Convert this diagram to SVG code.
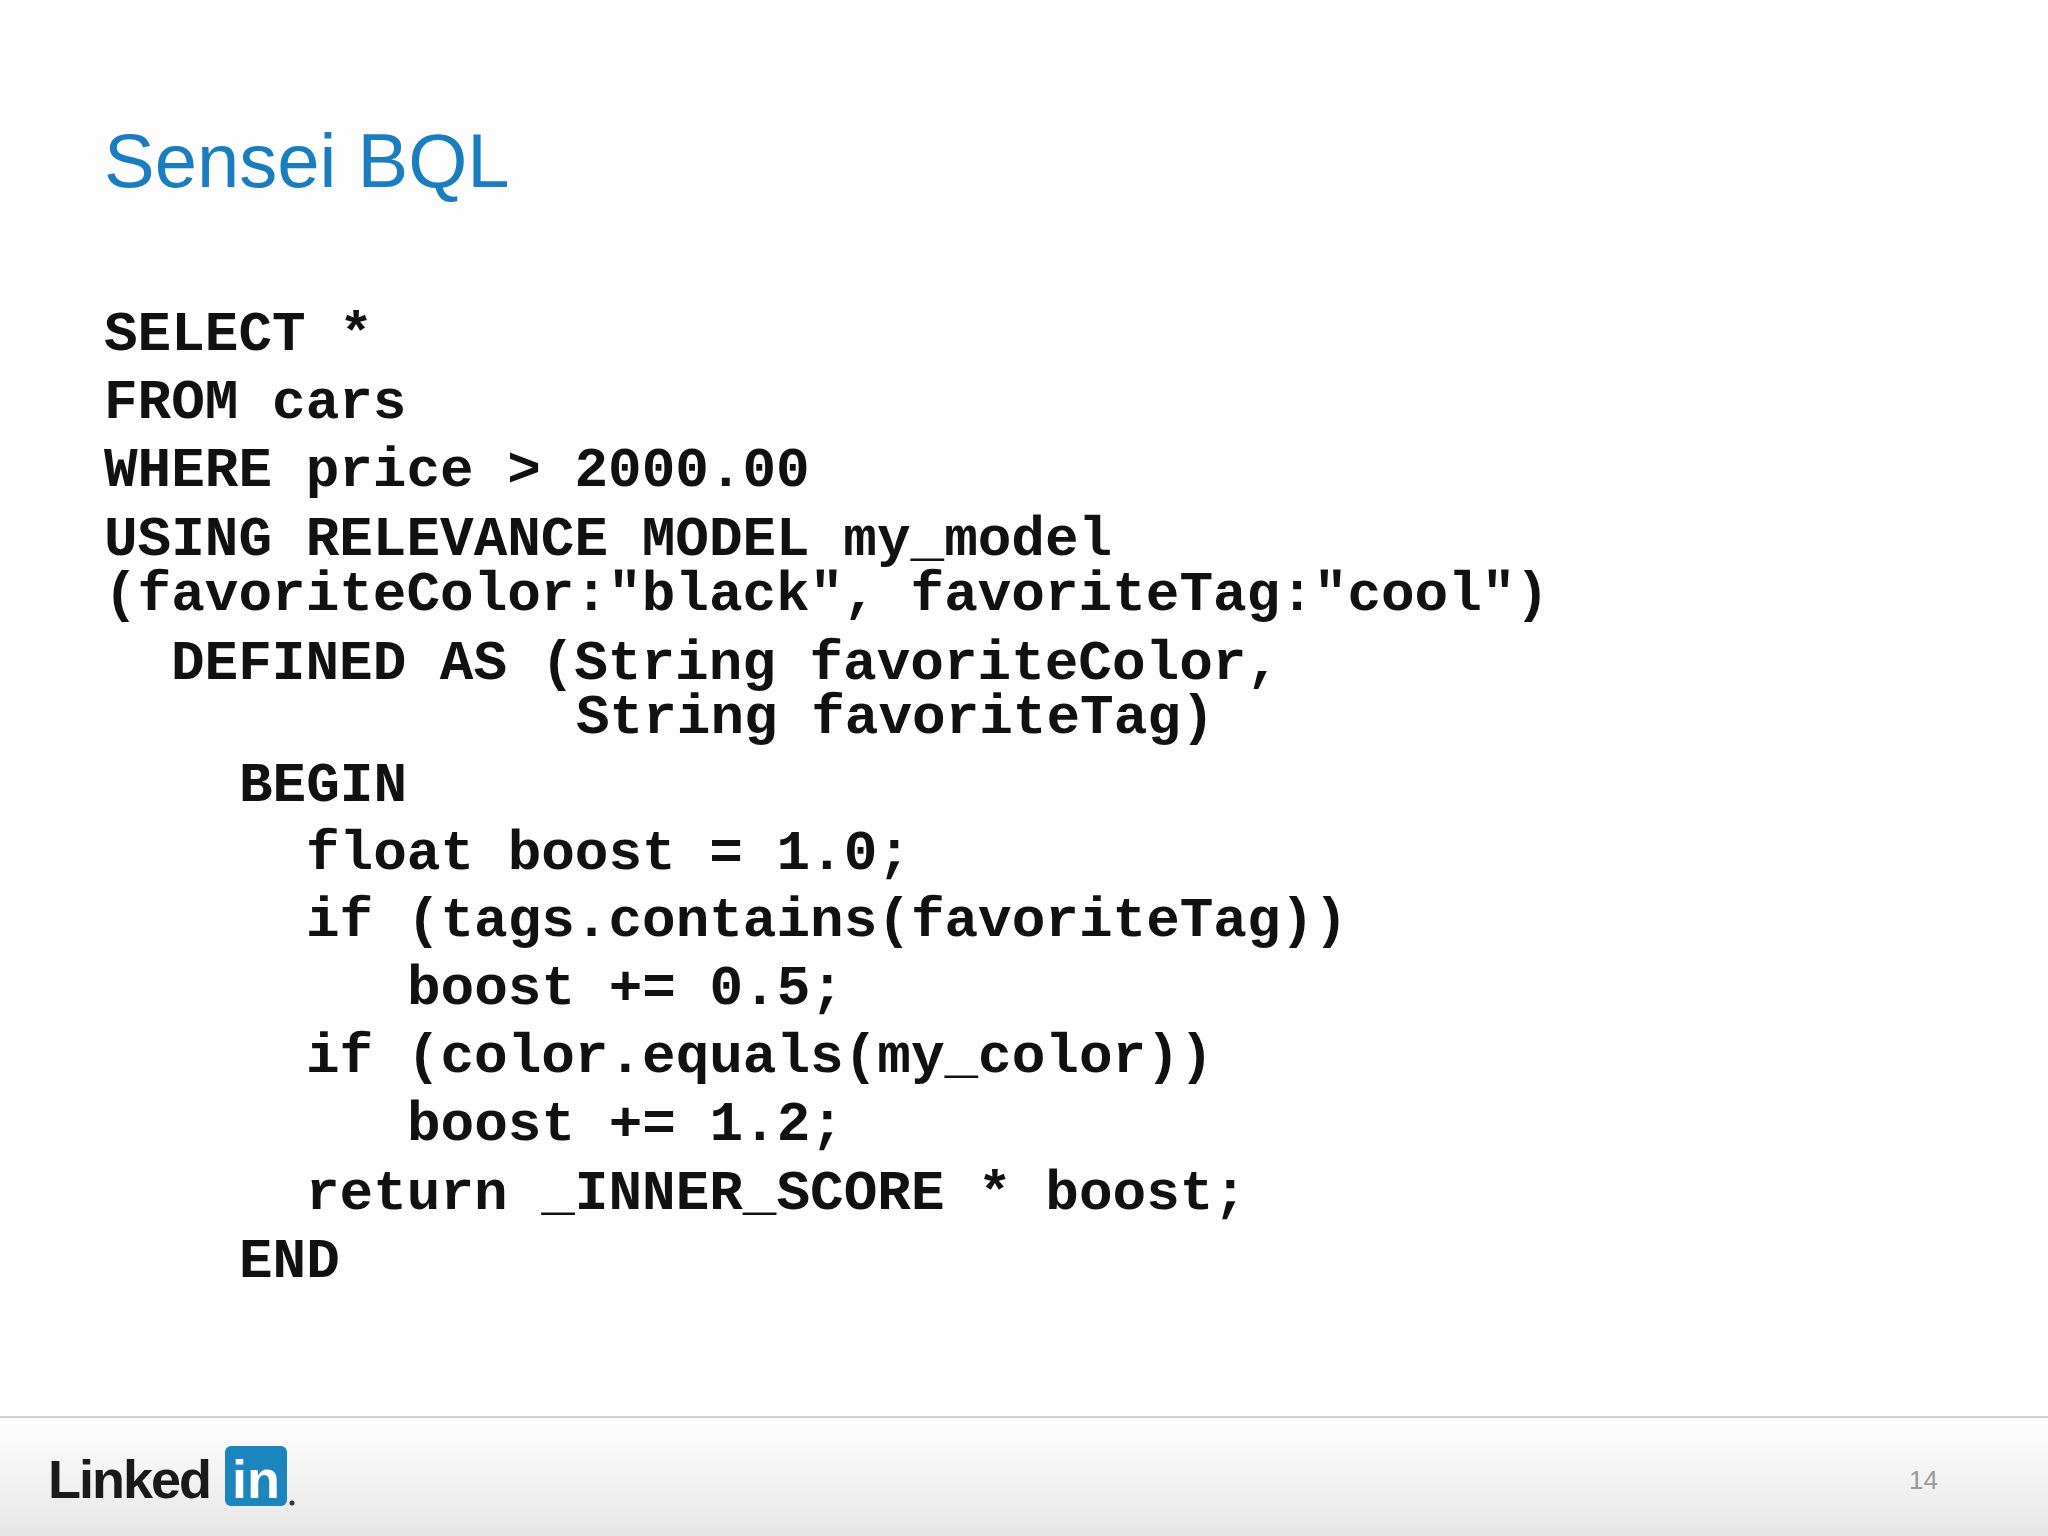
<svg xmlns="http://www.w3.org/2000/svg" width="2048" height="1536" viewBox="0 0 2048 1536">
<defs>
<linearGradient id="ft" x1="0" y1="0" x2="0" y2="1"><stop offset="0" stop-color="#ffffff"/><stop offset="1" stop-color="#e6e6e6"/></linearGradient>
<style>
.c{font-family:"Liberation Mono","Courier New",monospace;font-weight:bold;font-size:56px;fill:#111}
</style>
</defs>
<rect width="2048" height="1536" fill="#fdfdfd"/>
<text x="104" y="187" font-family="Liberation Sans, Arial, sans-serif" font-size="76" fill="#1a7dbf">Sensei BQL</text>
<g id="code" class="c" xml:space="preserve">
<text x="104" y="350" class="c">SELECT *</text>
<text x="104" y="418" class="c">FROM cars</text>
<text x="104" y="486" class="c">WHERE price &gt; 2000.00</text>
<text x="104" y="555" class="c">USING RELEVANCE MODEL my_model</text>
<text x="104" y="610" class="c">(favoriteColor:"black", favoriteTag:"cool")</text>
<text x="171" y="679" class="c">DEFINED AS (String favoriteColor,</text>
<text x="576" y="733" class="c">String favoriteTag)</text>
<text x="239" y="801" class="c">BEGIN</text>
<text x="306" y="869" class="c">float boost = 1.0;</text>
<text x="306" y="936" class="c">if (tags.contains(favoriteTag))</text>
<text x="407" y="1004" class="c">boost += 0.5;</text>
<text x="306" y="1072" class="c">if (color.equals(my_color))</text>
<text x="407" y="1140" class="c">boost += 1.2;</text>
<text x="306" y="1209" class="c">return _INNER_SCORE * boost;</text>
<text x="239" y="1277" class="c">END</text>
</g>
<g id="footer">
<rect x="0" y="1417" width="2048" height="119" fill="url(#ft)"/>
<line x1="0" y1="1417" x2="2048" y2="1417" stroke="#d0d0d0" stroke-width="2"/>
<text x="48" y="1498" font-family="Liberation Sans, Arial, sans-serif" font-weight="bold" font-size="54" fill="#1a1a1a" letter-spacing="-2">Linked</text>
<rect x="225" y="1446" width="62" height="60" rx="6" fill="#1b86bd"/>
<text x="256" y="1498" text-anchor="middle" font-family="Liberation Sans, Arial, sans-serif" font-weight="bold" font-size="54" fill="#fff">in</text>
<circle cx="292" cy="1503" r="2.5" fill="#333"/>
<text x="1909" y="1489" font-family="Liberation Sans, Arial, sans-serif" font-size="26" fill="#999">14</text>
</g>
</svg>
